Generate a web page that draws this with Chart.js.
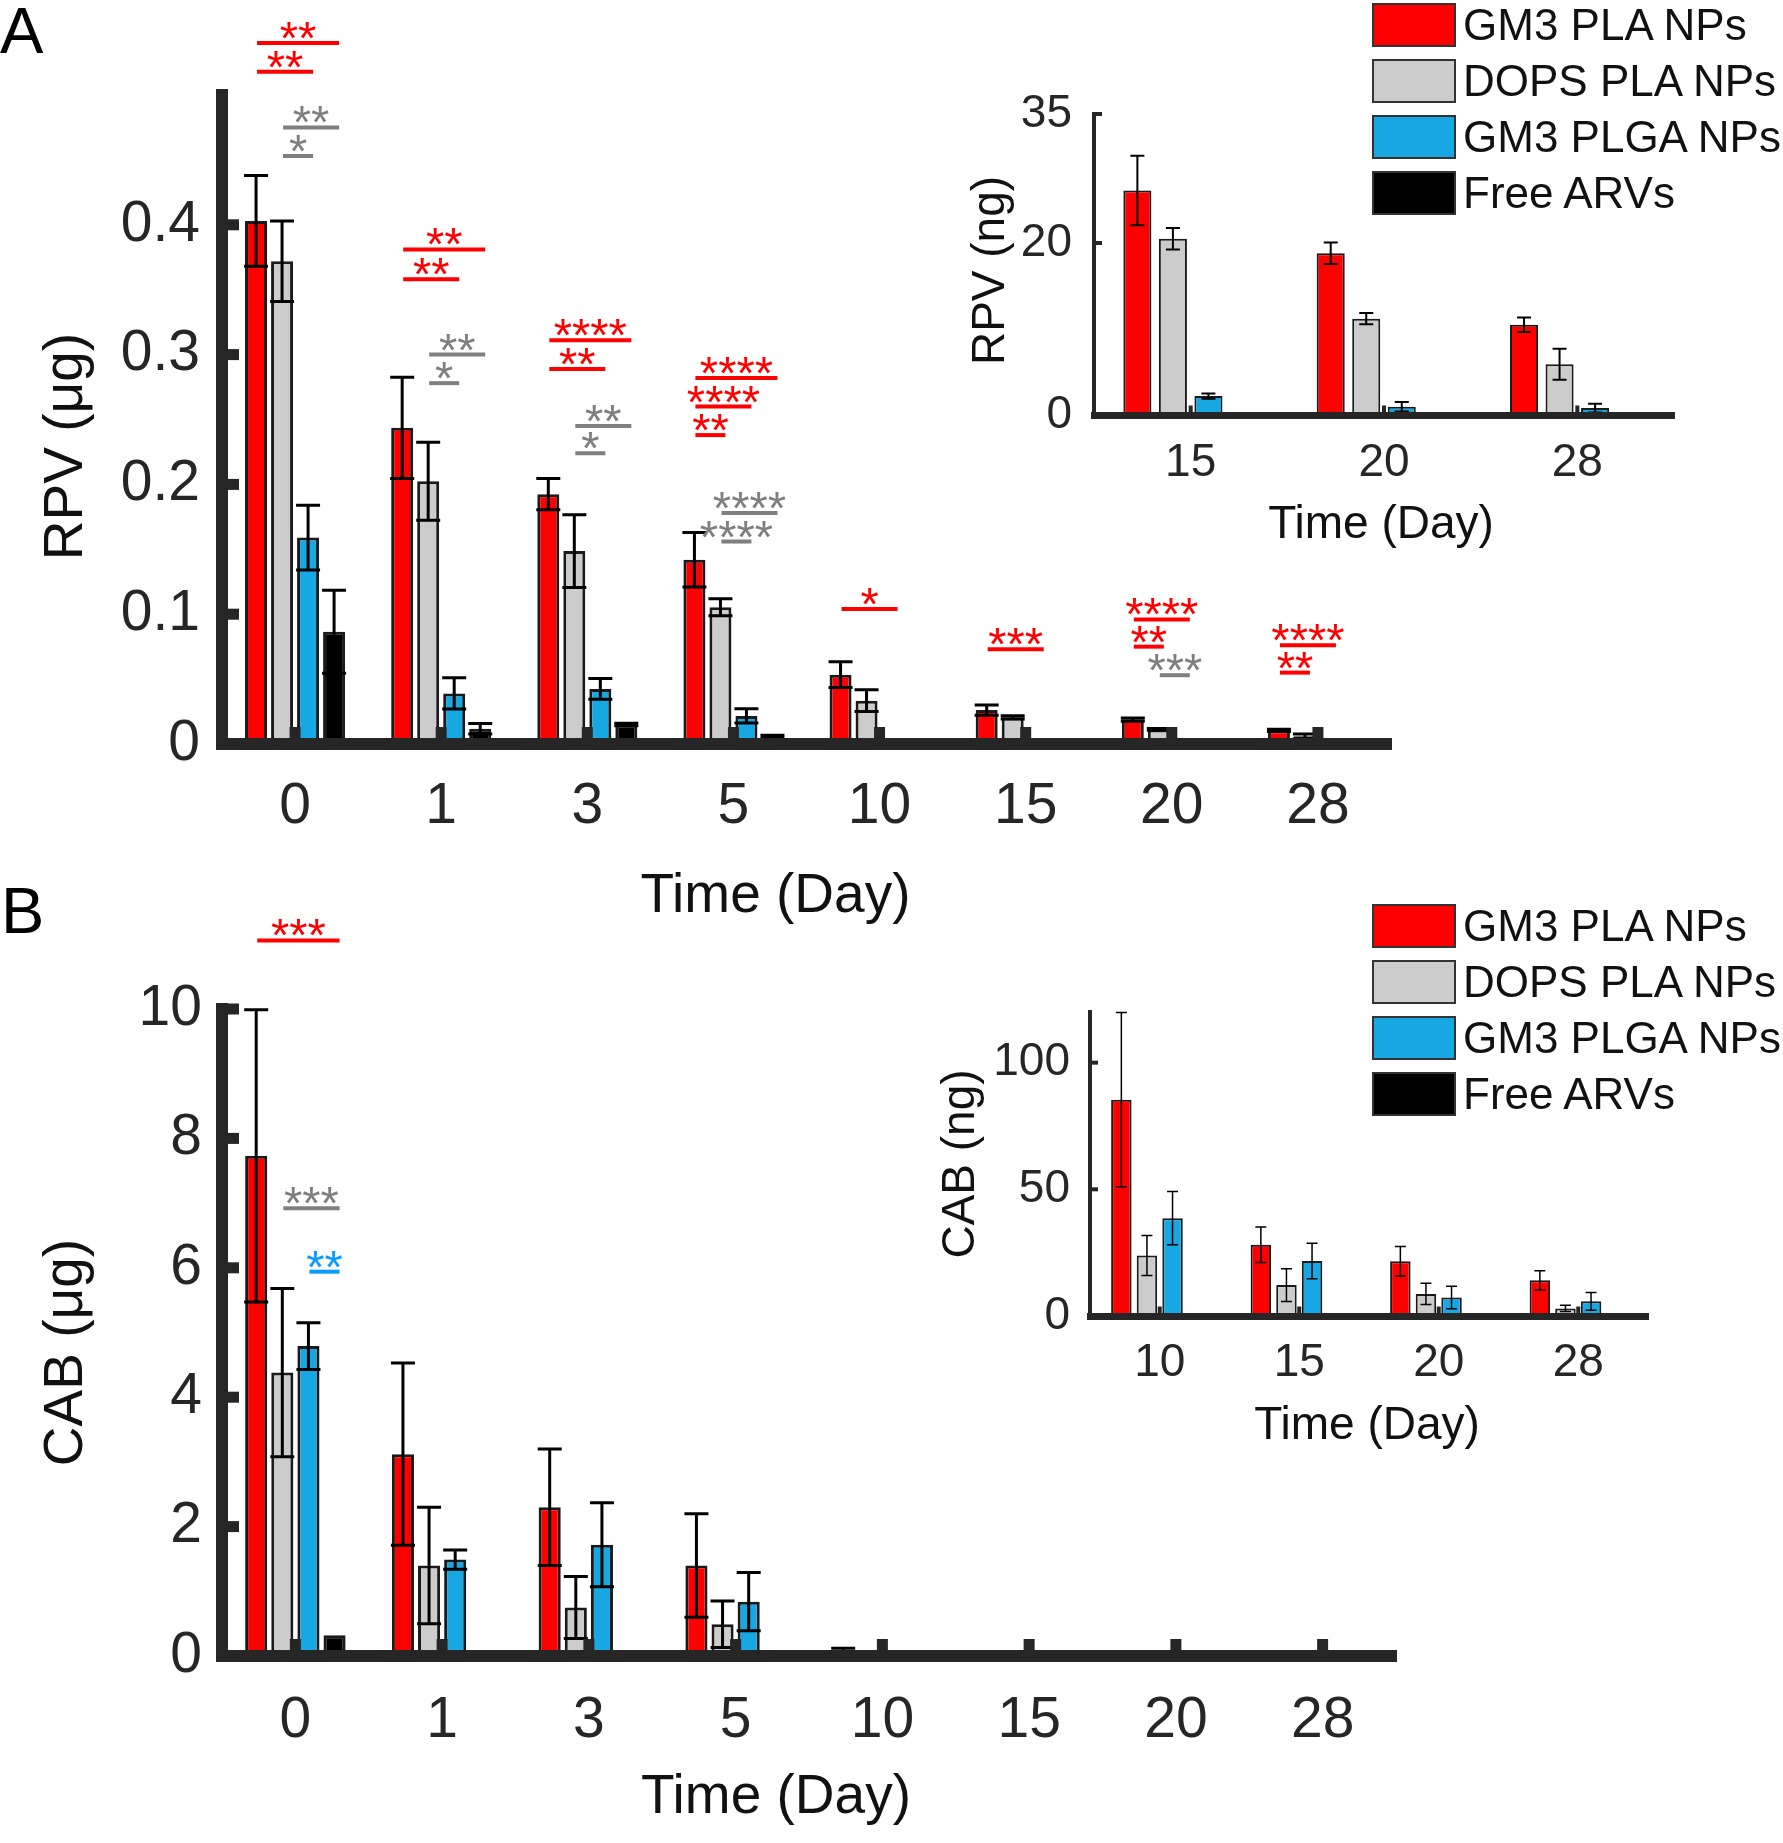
<!DOCTYPE html>
<html>
<head>
<meta charset="utf-8">
<script src="https://cdn.jsdelivr.net/npm/chart.js@4.4.1/dist/chart.umd.min.js"></script>
<style>
  html, body { margin: 0; padding: 0; background: #fff; }
  #page { position: relative; width: 1783px; height: 1843px; overflow: hidden; background: #fff;
          font-family: "Liberation Sans", Arial, Helvetica, sans-serif; }
  canvas { position: absolute; }
  .panel { position: absolute; font-size: 65px; line-height: 1; color: #000; }
  .legend { position: absolute; left: 1372px; }
  .legend .row { display: flex; align-items: center; height: 44px; margin-bottom: 12px; }
  .legend .sw { width: 80px; height: 40px; border: 2px solid #333; margin-right: 7px; }
  .legend .txt { font-size: 44px; line-height: 44px; color: #111; white-space: nowrap; }
</style>
</head>
<body>
<div id="page">
  <canvas id="mainA" width="1410" height="930" style="left:0;top:0"></canvas>
  <canvas id="mainB" width="1410" height="973" style="left:0;top:870px"></canvas>
  <canvas id="insetA" width="740" height="500" style="left:960px;top:60px"></canvas>
  <canvas id="insetB" width="780" height="500" style="left:900px;top:960px"></canvas>
  <div class="panel" style="left:0;top:-2px">A</div>
  <div class="panel" style="left:1px;top:878px">B</div>
  <div class="legend" id="legA" style="top:3px"></div>
  <div class="legend" id="legB" style="top:904px"></div>
</div>
<script>
const FONT = '"Liberation Sans", Arial, Helvetica, sans-serif';
Chart.defaults.font.family = FONT;

const seriesNames = ['GM3 PLA NPs', 'DOPS PLA NPs', 'GM3 PLGA NPs', 'Free ARVs'];
const fills = ['#ff0000', '#cccccc', '#17a8e3', '#000000'];
const sigColors = { red: '#ff0000', gray: '#7f7f7f', blue: '#0a9bff' };
const AXIS = '#262626';
const TICK = '#262626';

const mainDays = ['0', '1', '3', '5', '10', '15', '20', '28'];
const insetDaysA = ['15', '20', '28'];
const insetDaysB = ['10', '15', '20', '28'];

// A: RPV released (μg)
const rpvGm3Pla = [0.403, 0.2436, 0.1925, 0.1419, 0.0534, 0.0261, 0.0188, 0.0105];
const rpvDopsPla = [0.372, 0.2024, 0.1486, 0.1054, 0.0334, 0.0205, 0.0112, 0.0059];
const rpvGm3Plga = [0.159, 0.039, 0.0424, 0.0216, 0.002, 0.0022, 0.00095, 0.0008];
const rpvFree = [0.0865, 0.0118, 0.015, 0.0063, 0, 0, 0, 0];
const rpvGm3PlaErr = [0.035, 0.039, 0.012, 0.021, 0.0099, 0.004, 0.00125, 0.00085];
const rpvDopsPlaErr = [0.031, 0.030, 0.028, 0.0065, 0.0083, 0.00125, 0.00065, 0.0018];
const rpvGm3PlgaErr = [0.025, 0.012, 0.008, 0.0055, 0.001, 0.0003, 0.00055, 0.0005];
const rpvFreeErr = [0.032, 0.004, 0.001, 0.0005, 0, 0, 0, 0];
const rpvTicks = [0, 0.1, 0.2, 0.3, 0.4];

// A inset: RPV (ng), days 15-28
const rpvNgGm3Pla = [26.1, 18.8, 10.5];
const rpvNgDopsPla = [20.5, 11.2, 5.9];
const rpvNgGm3Plga = [2.2, 0.95, 0.8];
const rpvNgFree = [0, 0, 0];
const rpvNgGm3PlaErr = [4.05, 1.25, 0.85];
const rpvNgDopsPlaErr = [1.25, 0.65, 1.8];
const rpvNgGm3PlgaErr = [0.3, 0.55, 0.5];
const rpvNgFreeErr = [0, 0, 0];
const rpvNgTicks = [0, 20, 35];

// B: CAB released (μg)
const cabGm3Pla = [7.73, 3.12, 2.30, 1.40, 0.0854, 0.0281, 0.0216, 0.0141];
const cabDopsPla = [4.38, 1.40, 0.75, 0.49, 0.0239, 0.0122, 0.0087, 0.003];
const cabGm3Plga = [4.79, 1.49, 1.72, 0.84, 0.0386, 0.0217, 0.0073, 0.0058];
const cabFree = [0.32, 0, 0, 0, 0, 0, 0, 0];
const cabGm3PlaErr = [2.26, 1.41, 0.9, 0.8, 0.0344, 0.007, 0.0058, 0.0038];
const cabDopsPlaErr = [1.3, 0.9, 0.48, 0.36, 0.0079, 0.0065, 0.0042, 0.0012];
const cabGm3PlgaErr = [0.36, 0.15, 0.65, 0.45, 0.0105, 0.007, 0.0044, 0.0035];
const cabFreeErr = [0, 0, 0, 0, 0, 0, 0, 0];
const cabTicks = [0, 2, 4, 6, 8, 10];

// B inset: CAB (ng), days 10-28
const cabNgGm3Pla = [85.4, 28.1, 21.6, 14.1];
const cabNgDopsPla = [23.9, 12.2, 8.7, 3.0];
const cabNgGm3Plga = [38.6, 21.7, 7.3, 5.8];
const cabNgFree = [0, 0, 0, 0];
const cabNgGm3PlaErr = [34.4, 7, 5.8, 3.8];
const cabNgDopsPlaErr = [7.9, 6.5, 4.2, 1.2];
const cabNgGm3PlgaErr = [10.5, 7, 4.4, 3.5];
const cabNgFreeErr = [0, 0, 0, 0];
const cabNgTicks = [0, 50, 100];

// significance: [day index, from series, to series, height (data units), stars, group]
const sigA = [
  [0, 0, 3, 0.540, '**', 'red'], [0, 0, 2, 0.518, '**', 'red'],
  [0, 1, 3, 0.475, '**', 'gray'], [0, 1, 2, 0.453, '*', 'gray'],
  [1, 0, 3, 0.381, '**', 'red'], [1, 0, 2, 0.358, '**', 'red'],
  [1, 1, 3, 0.300, '**', 'gray'], [1, 1, 2, 0.278, '*', 'gray'],
  [2, 0, 3, 0.311, '****', 'red'], [2, 0, 2, 0.289, '**', 'red'],
  [2, 1, 3, 0.245, '**', 'gray'], [2, 1, 2, 0.224, '*', 'gray'],
  [3, 0, 3, 0.282, '****', 'red'], [3, 0, 2, 0.260, '****', 'red'], [3, 0, 1, 0.238, '**', 'red'],
  [3, 1, 3, 0.178, '****', 'gray'], [3, 1, 2, 0.156, '****', 'gray'],
  [4, 0, 2, 0.104, '*', 'red'],
  [5, 0, 2, 0.073, '***', 'red'],
  [6, 0, 2, 0.096, '****', 'red'], [6, 0, 1, 0.075, '**', 'red'], [6, 1, 2, 0.053, '***', 'gray'],
  [7, 0, 2, 0.076, '****', 'red'], [7, 0, 1, 0.055, '**', 'red'],
];
const sigB = [
  [0, 0, 3, 11.06, '***', 'red'],
  [0, 1, 3, 6.92, '***', 'gray'],
  [0, 2, 3, 5.94, '**', 'blue'],
];

function marksPlugin(o) {
  return {
    id: 'marks',
    afterDatasetsDraw(chart) {
      const ctx = chart.ctx, xs = chart.scales.x, ys = chart.scales.y, area = chart.chartArea;
      ctx.save();
      // error bars
      ctx.strokeStyle = '#000';
      ctx.lineWidth = o.errW;
      chart.data.datasets.forEach((ds, i) => {
        chart.getDatasetMeta(i).data.forEach((bar, j) => {
          const e = ds.err[j];
          if (!e) return;
          const v = ds.data[j];
          const yTop = ys.getPixelForValue(v + e);
          const yBot = ys.getPixelForValue(Math.max(v - e, 0));
          ctx.beginPath();
          ctx.moveTo(bar.x, yBot); ctx.lineTo(bar.x, yTop);
          ctx.moveTo(bar.x - o.cap, yTop); ctx.lineTo(bar.x + o.cap, yTop);
          if (v - e > 0) { ctx.moveTo(bar.x - o.cap, yBot); ctx.lineTo(bar.x + o.cap, yBot); }
          ctx.stroke();
        });
      });
      // inward tick marks, MATLAB style
      ctx.fillStyle = AXIS;
      ys.ticks.forEach(t => {
        if (t.value === 0) return;
        const p = ys.getPixelForValue(t.value);
        ctx.fillRect(area.left, p - o.nubH / 2, o.yAxisW / 2 + o.nubL, o.nubH);
      });
      xs.ticks.forEach((t, k) => {
        const p = xs.getPixelForTick(k);
        ctx.fillRect(p - o.nubH / 2, area.bottom - o.xAxisW / 2 - o.nubL, o.nubH, o.xAxisW / 2 + o.nubL);
      });
      ctx.restore();
    },
    afterDraw(chart) {
      const ctx = chart.ctx, ys = chart.scales.y, area = chart.chartArea;
      ctx.save();
      // axis titles
      ctx.font = o.titleSize + 'px ' + FONT;
      ctx.fillStyle = '#111';
      ctx.textAlign = 'center';
      ctx.textBaseline = 'middle';
      ctx.fillText('Time (Day)', (area.left + area.right) / 2 + o.xTitleShift, o.xTitleY);
      ctx.save();
      ctx.translate(o.yTitleX, (area.top + area.bottom) / 2 + o.yTitleShift);
      ctx.rotate(-Math.PI / 2);
      ctx.fillText(o.yTitle, 0, 0);
      ctx.restore();
      // significance brackets
      if (o.sig) {
        ctx.font = o.starSize + 'px ' + FONT;
        ctx.textBaseline = 'alphabetic';
        ctx.lineWidth = 4;
        o.sig.forEach(([d, a, b, h, stars, grp]) => {
          const xa = chart.getDatasetMeta(a).data[d].x + 1;
          const xb = chart.getDatasetMeta(b).data[d].x + 5;
          const y = ys.getPixelForValue(h);
          ctx.strokeStyle = ctx.fillStyle = sigColors[grp];
          ctx.beginPath(); ctx.moveTo(xa, y); ctx.lineTo(xb, y); ctx.stroke();
          ctx.fillText(stars, (xa + xb) / 2, y + o.starDy);
        });
      }
      ctx.restore();
    },
  };
}

function releaseChart(id, o) {
  return new Chart(document.getElementById(id), {
    type: 'bar',
    data: {
      labels: o.days,
      datasets: o.values.map((vals, i) => ({
        label: seriesNames[i],
        data: vals,
        err: o.errors[i],
        backgroundColor: fills[i],
        borderColor: '#1a1a1a',
        borderWidth: o.barBorder,
        categoryPercentage: o.catPct,
        barPercentage: o.barPct,
      })),
    },
    options: {
      responsive: false,
      animation: false,
      events: [],
      layout: { padding: o.padding },
      plugins: { legend: { display: false }, tooltip: { enabled: false } },
      scales: {
        x: {
          offset: true,
          grid: { display: false, drawTicks: false },
          border: { display: true, width: o.xAxisW, color: AXIS, z: 1 },
          ticks: { font: { size: o.tickSize }, color: TICK, padding: o.xTickPad, maxRotation: 0, autoSkip: false },
          afterFit: s => { s.height = o.xHeight; },
        },
        y: {
          min: 0,
          max: o.yMax,
          grid: { display: false, drawTicks: false },
          border: { display: true, width: o.yAxisW, color: AXIS, z: 1 },
          ticks: { font: { size: o.tickSize }, color: TICK, padding: o.yTickPad, callback: v => String(v) },
          afterBuildTicks: s => { s.ticks = o.yTicks.map(v => ({ value: v })); },
          afterFit: s => { s.width = o.yWidth; },
        },
      },
    },
    plugins: [marksPlugin(o)],
  });
}

releaseChart('mainA', {
  days: mainDays,
  values: [rpvGm3Pla, rpvDopsPla, rpvGm3Plga, rpvFree],
  errors: [rpvGm3PlaErr, rpvDopsPlaErr, rpvGm3PlgaErr, rpvFreeErr],
  yMax: 0.5, yTicks: rpvTicks, yTitle: 'RPV (μg)',
  padding: { left: 0, top: 95, right: 19, bottom: 0 },
  yWidth: 222, xHeight: 186,
  tickSize: 57, titleSize: 55, xTickPad: 29, yTickPad: 22,
  xTitleY: 897, xTitleShift: -31, yTitleX: 67, yTitleShift: 27,
  catPct: 0.712, barPct: 0.846, barBorder: 3,
  xAxisW: 12, yAxisW: 12, nubL: 11, nubH: 11,
  errW: 3, cap: 12,
  sig: sigA, starSize: 47, starDy: 11,
});

releaseChart('mainB', {
  days: mainDays,
  values: [cabGm3Pla, cabDopsPla, cabGm3Plga, cabFree],
  errors: [cabGm3PlaErr, cabDopsPlaErr, cabGm3PlgaErr, cabFreeErr],
  yMax: 10, yTicks: cabTicks, yTitle: 'CAB (μg)',
  padding: { left: 0, top: 139, right: 14, bottom: 0 },
  yWidth: 222, xHeight: 187,
  tickSize: 57, titleSize: 55, xTickPad: 31, yTickPad: 20,
  xTitleY: 928, xTitleShift: -33, yTitleX: 67, yTitleShift: 20,
  catPct: 0.712, barPct: 0.846, barBorder: 3,
  xAxisW: 12, yAxisW: 12, nubL: 11, nubH: 11,
  errW: 3, cap: 12,
  sig: sigB, starSize: 47, starDy: 11,
});

releaseChart('insetA', {
  days: insetDaysA,
  values: [rpvNgGm3Pla, rpvNgDopsPla, rpvNgGm3Plga, rpvNgFree],
  errors: [rpvNgGm3PlaErr, rpvNgDopsPlaErr, rpvNgGm3PlgaErr, rpvNgFreeErr],
  yMax: 35, yTicks: rpvNgTicks, yTitle: 'RPV (ng)',
  padding: { left: 0, top: 54, right: 26, bottom: 0 },
  yWidth: 134, xHeight: 145,
  tickSize: 46, titleSize: 46, xTickPad: 21, yTickPad: 22,
  xTitleY: 465, xTitleShift: -3, yTitleX: 31, yTitleShift: 6,
  catPct: 0.735, barPct: 0.79, barBorder: 2,
  xAxisW: 7, yAxisW: 4, nubL: 6, nubH: 4,
  errW: 2, cap: 7,
});

releaseChart('insetB', {
  days: insetDaysB,
  values: [cabNgGm3Pla, cabNgDopsPla, cabNgGm3Plga, cabNgFree],
  errors: [cabNgGm3PlaErr, cabNgDopsPlaErr, cabNgGm3PlgaErr, cabNgFreeErr],
  yMax: 120, yTicks: cabNgTicks, yTitle: 'CAB (ng)',
  padding: { left: 0, top: 52, right: 32, bottom: 0 },
  yWidth: 190, xHeight: 144,
  tickSize: 46, titleSize: 46, xTickPad: 20, yTickPad: 20,
  xTitleY: 466, xTitleShift: -2, yTitleX: 61, yTitleShift: 0,
  catPct: 0.734, barPct: 0.8, barBorder: 2,
  xAxisW: 7, yAxisW: 4, nubL: 6, nubH: 4,
  errW: 1.5, cap: 5.5,
});

function buildLegend(id) {
  const box = document.getElementById(id);
  seriesNames.forEach((name, i) => {
    const row = document.createElement('div');
    row.className = 'row';
    const sw = document.createElement('div');
    sw.className = 'sw';
    sw.style.background = fills[i];
    const txt = document.createElement('span');
    txt.className = 'txt';
    txt.textContent = name;
    row.appendChild(sw);
    row.appendChild(txt);
    box.appendChild(row);
  });
}
buildLegend('legA');
buildLegend('legB');
</script>
</body>
</html>
